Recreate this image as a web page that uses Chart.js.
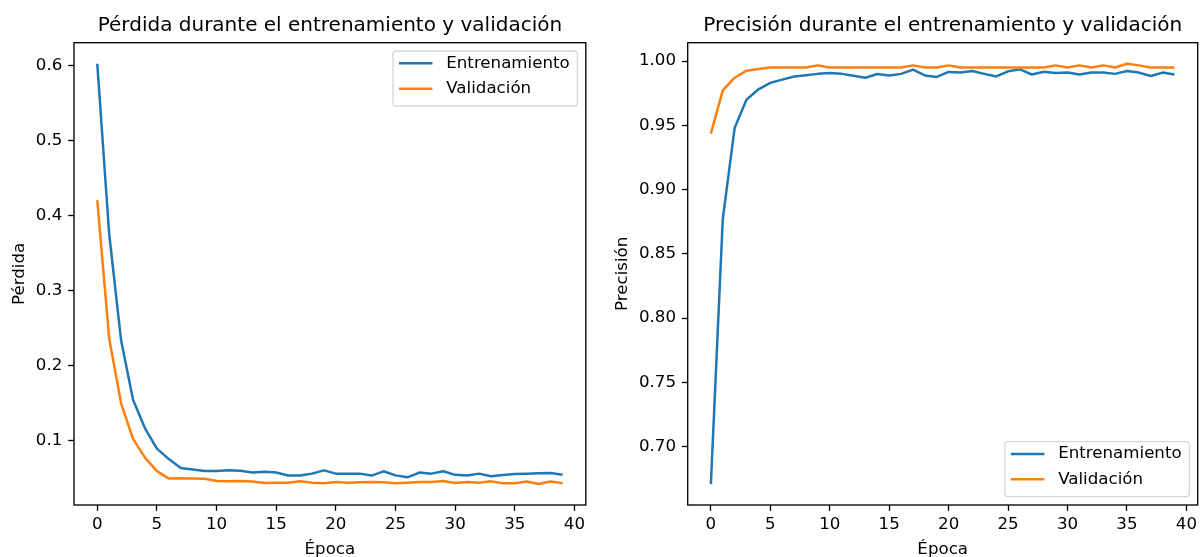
<!DOCTYPE html>
<html><head><meta charset="utf-8">
<script src="https://cdn.jsdelivr.net/npm/chart.js@4.4.1/dist/chart.umd.min.js"></script>
<style>
html,body{margin:0;padding:0;background:#fff;width:1201px;height:557px;overflow:hidden}
.box{position:absolute;top:0;height:557px}
#b1{left:0;width:600px}
#b2{left:600px;width:601px}
</style></head><body>
<div class="box" id="b1"><canvas id="c1"></canvas></div>
<div class="box" id="b2"><canvas id="c2"></canvas></div>
<script>
const epochs = [0,1,2,3,4,5,6,7,8,9,10,11,12,13,14,15,16,17,18,19,20,21,22,23,24,25,26,27,28,29,30,31,32,33,34,35,36,37,38,39];
const xTickValues = [0,5,10,15,20,25,30,35,40];
const lossTickValues = [0.1,0.2,0.3,0.4,0.5,0.6];
const accTickValues = [0.70,0.75,0.80,0.85,0.90,0.95,1.00];
const seriesLabels = ['Entrenamiento','Validación'];

const trainLoss = [0.602,0.375,0.233,0.154,0.116,0.089,0.075,0.063,0.061,0.059,0.059,0.060,0.0595,0.057,0.058,0.057,0.053,0.053,0.0556,0.060,0.0556,0.0556,0.0556,0.053,0.0587,0.0533,0.0507,0.057,0.0556,0.0587,0.054,0.053,0.0556,0.052,0.0538,0.055,0.0556,0.056,0.0565,0.054];
const valLoss = [0.42,0.2356,0.149,0.102,0.077,0.059,0.049,0.0493,0.049,0.0487,0.0458,0.0453,0.0458,0.045,0.043,0.0436,0.0436,0.0453,0.0436,0.0427,0.0444,0.0436,0.044,0.0444,0.044,0.0427,0.0436,0.0444,0.0444,0.0458,0.0431,0.0444,0.0436,0.0453,0.0427,0.0427,0.045,0.0418,0.045,0.0427];
const trainAcc = [0.671,0.877,0.948,0.970,0.978,0.983,0.9855,0.988,0.989,0.990,0.9907,0.990,0.9886,0.987,0.9899,0.9888,0.990,0.9933,0.9888,0.9876,0.9915,0.991,0.9922,0.990,0.988,0.992,0.9935,0.9895,0.9917,0.9906,0.991,0.9895,0.991,0.991,0.990,0.9922,0.991,0.9884,0.991,0.9895];
const valAcc = [0.9435,0.9772,0.987,0.9925,0.9938,0.995,0.995,0.995,0.995,0.9966,0.995,0.995,0.995,0.995,0.995,0.995,0.995,0.9966,0.995,0.995,0.9966,0.995,0.995,0.995,0.995,0.995,0.995,0.995,0.995,0.9966,0.995,0.9966,0.995,0.9966,0.995,0.9979,0.9966,0.995,0.995,0.995];

const BLUE = '#1f77b4', ORANGE = '#ff7f0e';
const FAM = '"DejaVu Sans", sans-serif';
const FS = 16.67;

function paddedRange(arrs) {
  const all = [].concat(...arrs);
  const mn = Math.min(...all), mx = Math.max(...all);
  const r = mx - mn;
  return [mn - 0.05 * r, mx + 0.05 * r];
}

const framePlugin = {
  id: 'mplFrame',
  afterDatasetsDraw(chart) {
    const {ctx, chartArea: a} = chart;
    ctx.save();
    ctx.strokeStyle = '#000';
    ctx.lineWidth = 1.33;
    ctx.strokeRect(a.left, a.top, a.right - a.left, a.bottom - a.top);
    ctx.restore();
  }
};

const legendPlugin = {
  id: 'mplLegend',
  afterDraw(chart, args, opts) {
    if (!opts || !opts.loc) return;
    const {ctx, chartArea: a} = chart;
    const pad = 8.33, w = 184.5, h = 55, r = 3.3;
    const x = a.right - pad - w;
    const y = opts.loc === 'upper right' ? a.top + pad : a.bottom - pad - h;
    ctx.save();
    ctx.beginPath();
    ctx.moveTo(x + r, y);
    ctx.lineTo(x + w - r, y);
    ctx.quadraticCurveTo(x + w, y, x + w, y + r);
    ctx.lineTo(x + w, y + h - r);
    ctx.quadraticCurveTo(x + w, y + h, x + w - r, y + h);
    ctx.lineTo(x + r, y + h);
    ctx.quadraticCurveTo(x, y + h, x, y + h - r);
    ctx.lineTo(x, y + r);
    ctx.quadraticCurveTo(x, y, x + r, y);
    ctx.closePath();
    ctx.fillStyle = 'rgba(255,255,255,0.8)';
    ctx.fill();
    ctx.strokeStyle = 'rgba(204,204,204,0.8)';
    ctx.lineWidth = 1.33;
    ctx.stroke();
    const items = chart.data.datasets.slice().sort((p, q) => p.legendIndex - q.legendIndex);
    items.forEach((ds, i) => {
      const ry = y + 12.3 + i * 25.3;
      ctx.beginPath();
      ctx.moveTo(x + 6, ry);
      ctx.lineTo(x + 39.5, ry);
      ctx.strokeStyle = ds.borderColor;
      ctx.lineWidth = 2.5;
      ctx.stroke();
      ctx.fillStyle = '#000';
      ctx.font = FS + 'px ' + FAM;
      ctx.textAlign = 'left';
      ctx.textBaseline = 'middle';
      ctx.fillText(ds.label, x + 53.3, ry);
    });
    ctx.restore();
  }
};

function makeChart(id, cfg) {
  const [ymin, ymax] = paddedRange(cfg.series);
  const font = {family: FAM, size: FS, lineHeight: 1.2};
  const xTitleFont = {family: FAM, size: FS, lineHeight: 0.84};
  const mk = (vals) => epochs.map((e, i) => ({x: e, y: vals[i]}));
  return new Chart(document.getElementById(id), {
    type: 'line',
    data: {
      datasets: [
        {label: seriesLabels[0], data: mk(cfg.series[0]), borderColor: BLUE, backgroundColor: BLUE, borderWidth: 2.5, pointRadius: 0, tension: 0, fill: false, order: 1, legendIndex: 0, borderJoinStyle: 'round'},
        {label: seriesLabels[1], data: mk(cfg.series[1]), borderColor: ORANGE, backgroundColor: ORANGE, borderWidth: 2.5, pointRadius: 0, tension: 0, fill: false, order: 0, legendIndex: 1, borderJoinStyle: 'round'}
      ]
    },
    plugins: [framePlugin, legendPlugin],
    options: {
      responsive: true,
      maintainAspectRatio: false,
      devicePixelRatio: 1,
      animation: false,
      events: [],
      layout: {padding: {left: 0, right: cfg.rightPad, top: 0, bottom: 0}},
      plugins: {
        legend: {display: false},
        tooltip: {enabled: false},
        title: {display: true, text: cfg.title, fullSize: false, color: '#000',
                font: {family: FAM, size: 20, weight: 'normal', lineHeight: 1.2},
                padding: {top: 13.8, bottom: 4.9}},
        mplLegend: {loc: cfg.legendLoc}
      },
      scales: {
        x: {
          type: 'linear', min: -1.95, max: 40.95,
          afterBuildTicks: s => { s.ticks = xTickValues.map(v => ({value: v})); },
          afterFit: s => { s.height = 52; },
          ticks: {font: font, color: '#000', padding: 3.4, maxRotation: 0, autoSkip: false, callback: v => String(v)},
          grid: {display: true, drawOnChartArea: false, drawTicks: true, tickLength: 5.83, tickWidth: 1.33, tickColor: '#000'},
          border: {display: false},
          title: {display: true, text: 'Época', color: '#000', font: xTitleFont, padding: {top: 0, bottom: 0}}
        },
        y: {
          type: 'linear', min: ymin, max: ymax,
          afterBuildTicks: s => { s.ticks = cfg.yTicks.map(v => ({value: v})); },
          afterFit: s => { s.width = cfg.yWidth; },
          ticks: {font: font, color: '#000', padding: 5.83, autoSkip: false, callback: v => v.toFixed(cfg.decimals)},
          grid: {display: true, drawOnChartArea: false, drawTicks: true, tickLength: 5.83, tickWidth: 1.33, tickColor: '#000'},
          border: {display: false},
          title: {display: true, text: cfg.yTitle, color: '#000', font: font, padding: {top: cfg.yTitlePad, bottom: 0}}
        }
      }
    }
  });
}

makeChart('c1', {
  series: [trainLoss, valLoss],
  title: 'Pérdida durante el entrenamiento y validación',
  yTitle: 'Pérdida', yTicks: lossTickValues, decimals: 1,
  yWidth: 74, rightPad: 14.2, yTitlePad: 9.4, legendLoc: 'upper right'
});
makeChart('c2', {
  series: [trainAcc, valAcc],
  title: 'Precisión durante el entrenamiento y validación',
  yTitle: 'Precisión', yTicks: accTickValues, decimals: 2,
  yWidth: 87.7, rightPad: 3.3, yTitlePad: 12.5, legendLoc: 'lower right'
});
</script>
</body></html>
